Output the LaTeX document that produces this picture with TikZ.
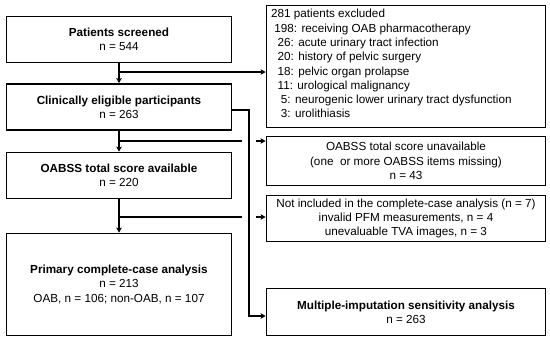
\documentclass[tikz,border=0pt]{standalone}
\usepackage{fontspec}
\setmainfont{Liberation Sans}
\usetikzlibrary{arrows.meta}
\begin{document}
\begin{tikzpicture}[x=1pt,y=-1pt,
  txt/.style={font=\fontsize{11.7}{14.3}\selectfont},
  box/.style={draw, line width=1.8pt, inner sep=0pt, align=center, txt},
  conn/.style={line width=1.8pt},
  arr/.style={conn, -{Stealth[length=5pt,width=5.5pt,inset=1pt]}}]
\useasboundingbox (0,0) rectangle (550,341);
% left column
\node[box, minimum width=225pt, minimum height=46pt] (scr) at (119,39.5) {\textbf{Patients screened}\\n = 544};
\node[box, minimum width=225pt, minimum height=46pt] (elig) at (119,107) {\textbf{Clinically eligible participants}\\n = 263};
\node[box, minimum width=225pt, minimum height=46pt] (avail) at (119,175.5) {\textbf{OABSS total score available}\\n = 220};
\node[box, minimum width=225pt, minimum height=102pt] (prim) at (119,284.5) {\textbf{Primary complete-case analysis}\\n = 213\\OAB, n = 106; non-OAB, n = 107};
% right column
\node[box, minimum width=279pt, minimum height=122pt] (excl) at (406,66.5) {};
\node[txt, anchor=west, inner sep=0pt] (exclt) at (271,65) {\begin{tabular}{@{}l@{}}
281 patients excluded\\
\ 198: receiving OAB pharmacotherapy\\
\ \ 26: acute urinary tract infection\\
\ \ 20: history of pelvic surgery\\
\ \ 18: pelvic organ prolapse\\
\ \ 11: urological malignancy\\
\ \ \ 5: neurogenic lower urinary tract dysfunction\\
\ \ \ 3: urolithiasis
\end{tabular}};
\node[box, minimum width=279pt, minimum height=49pt] (unav) at (406,161) {OABSS total score unavailable\\(one\ \ or more OABSS items missing)\\n = 43};
\node[box, minimum width=279pt, minimum height=46pt] (notinc) at (406,218.5) {Not included in the complete-case analysis (n = 7)\\invalid PFM measurements, n = 4\\unevaluable TVA images, n = 3};
\node[box, minimum width=279pt, minimum height=47pt] (multi) at (406,312) {\textbf{Multiple-imputation sensitivity analysis}\\n = 263};
% connectors
\coordinate (b1) at (119,72);
\coordinate (b2) at (119,141);
\coordinate (b3) at (119,217);
\coordinate (g2a) at (242,141);
\coordinate (g2b) at (256,141);
\coordinate (g3a) at (242,217);
\coordinate (g3b) at (256,217);
\coordinate (s1) at (249,110);
\coordinate (s2) at (249,316);
\draw[arr] (scr.south) -- (elig.north);
\draw[arr] (elig.south) -- (avail.north);
\draw[arr] (avail.south) -- (prim.north);
\draw[arr] (b1) -- (excl.west |- b1);
\draw[conn] (b2) -- (g2a);
\draw[arr] (g2b) -- (unav.west |- g2b);
\draw[conn] (b3) -- (g3a);
\draw[arr] (g3b) -- (notinc.west |- g3b);
\draw[arr] (elig.east |- s1) -- (s1) -- (s2) -- (multi.west |- s2);
\end{tikzpicture}
\end{document}
